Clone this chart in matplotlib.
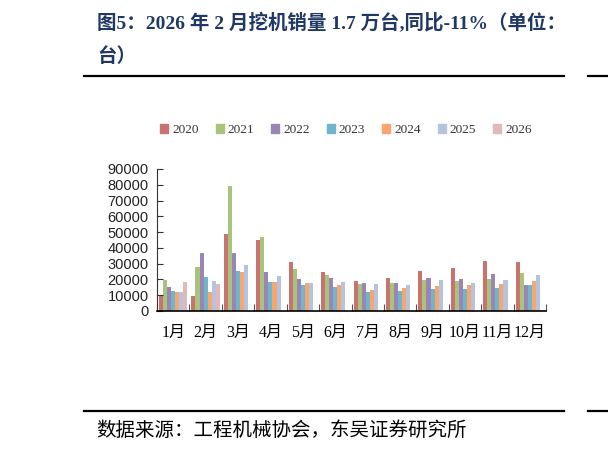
import matplotlib
matplotlib.use("Agg")
import matplotlib.pyplot as plt
import numpy as np
from matplotlib.patches import Rectangle
from matplotlib.lines import Line2D

months = ["1月", "2月", "3月", "4月", "5月", "6月", "7月", "8月", "9月", "10月", "11月", "12月"]
years = ["2020", "2021", "2022", "2023", "2024", "2025", "2026"]

s2020 = [9700, 9300, 48900, 45300, 31100, 24600, 19100, 21000, 25600, 27100, 31800, 31100]
s2021 = [19700, 28200, 79000, 46600, 26900, 22900, 17200, 17800, 19700, 19100, 20300, 24200]
s2022 = [15300, 36900, 36900, 24600, 20300, 21000, 17800, 17800, 21000, 20300, 23500, 16500]
s2023 = [12900, 21600, 25200, 18400, 16500, 15300, 12300, 12900, 14000, 14000, 14600, 16500]
s2024 = [12300, 12100, 24600, 18400, 17800, 16500, 13600, 14600, 15900, 16500, 17200, 19100]
s2025 = [12300, 19100, 29400, 22200, 17800, 18400, 17200, 16500, 19700, 17800, 19700, 22900]
s2026 = [18400, 17200]

series = [s2020, s2021, s2022, s2023, s2024, s2025, s2026]
colors = ["#C8736F", "#A8C47C", "#9B85B5", "#6FB5CC", "#F8A56E", "#B4C3DE", "#E3B8B8"]

yticks = [0, 10000, 20000, 30000, 40000, 50000, 60000, 70000, 80000, 90000]

fig = plt.figure(figsize=(6.08, 4.49), dpi=100)
ax = fig.add_axes([157/608, 1-311/449, (546-157)/608, (311-169)/449])

n = len(series)
w = 0.125
x = np.arange(len(months))
for i, (vals, c) in enumerate(zip(series, colors)):
    xs = x[:len(vals)] - (n - 1) * w / 2 + i * w
    ax.bar(xs, vals, width=w, color=c, linewidth=0)

ax.set_xlim(-0.5, len(months) - 0.5)
ax.set_ylim(0, 90000)
ax.set_yticks(yticks)
ax.set_yticklabels([str(t) for t in yticks], family="Liberation Sans", fontsize=10.5, color="#222222")
ax.set_xticks(np.arange(-0.5, len(months), 1.0))
ax.set_xticklabels([])
ax.set_xticks(x, minor=True)
ax.set_xticklabels(months, minor=True, family=["Liberation Serif", "Noto Sans CJK SC"], fontsize=11.5)
ax.tick_params(axis="x", which="major", direction="in", length=5, color="#555555")
ax.tick_params(axis="x", which="minor", length=0, pad=10)
ax.tick_params(axis="y", direction="in", length=4, color="#333333", pad=6)
for s in ["top", "right"]:
    ax.spines[s].set_visible(False)
ax.spines["left"].set_color("#333333")
ax.spines["bottom"].set_color("#000000")
ax.spines["bottom"].set_linewidth(1.2)

handles = [Rectangle((0, 0), 1, 1, color=c) for c in colors]
fig.legend(handles, years, loc="center", bbox_to_anchor=(346/608, 1-130/449), ncol=7,
           frameon=False, handlelength=0.6, handleheight=0.6, handletextpad=0.3,
           columnspacing=1.3, prop={"family": "Liberation Serif", "size": 9.5},
           labelcolor="#333333")

tfont = ["Liberation Serif", "Noto Sans CJK SC"]
fig.text(97/608, 1-22/449, "图5：2026 年 2 月挖机销量 1.7 万台,同比-11%（单位：",
         family=tfont, fontsize=14, fontweight="bold", color="#1F3864", va="center")
fig.text(97/608, 1-57/449, "台）", family=tfont, fontsize=14, fontweight="bold",
         color="#1F3864", va="center")

for yy in [76, 411]:
    fig.add_artist(Line2D([84/608, 564/608], [1-yy/449, 1-yy/449], color="black", lw=1.6))
    fig.add_artist(Line2D([588/608, 1.0], [1-yy/449, 1-yy/449], color="black", lw=1.6))

fig.text(96/608, 1-430/449, "数据来源：工程机械协会，东吴证券研究所",
         family=["Noto Sans CJK SC"], fontsize=14, color="black", va="center")

fig.savefig("out.png", dpi=100)
